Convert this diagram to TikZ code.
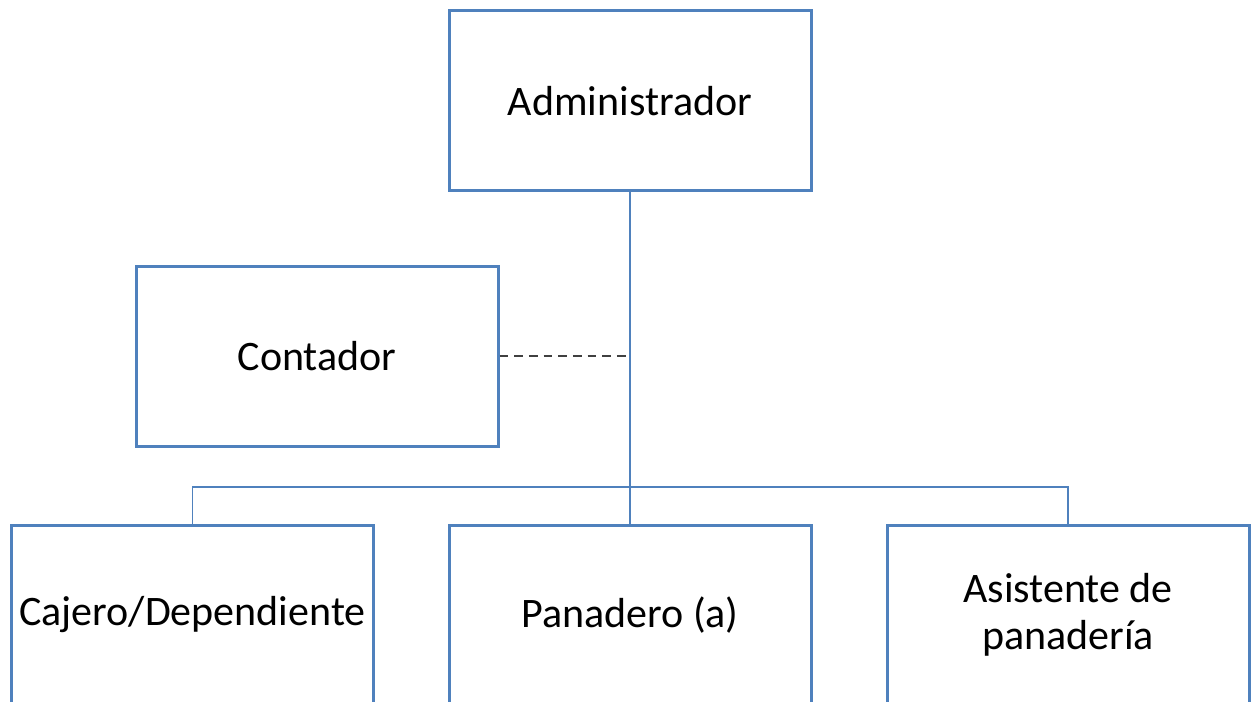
\documentclass[tikz,border=0pt]{standalone}
\usepackage{fontspec}
\setmainfont{Carlito}
\usepackage{tikz}
\RequirePackage{xcolor}
\definecolor{boxblue}{HTML}{4F81BD}
\definecolor{dashgray}{HTML}{404040}

\tikzset{
  puesto/.style={draw=boxblue, line width=2.25pt, fill=white,
    minimum width=271.5pt, minimum height=135pt, inner sep=0pt,
    align=center, font=\fontsize{31.5}{35.5}\selectfont},
  enlace/.style={draw=boxblue, line width=1.3pt},
  staff/.style={draw=dashgray, line width=1.4pt, dash pattern=on 6.5pt off 4.5pt}
}

\begin{document}
\begin{tikzpicture}[x=0.75pt, y=-0.75pt]
     \clip (0,0) rectangle (1251,702);
     \fill[white] (0,0) rectangle (1251,702);
     \node[puesto] (admin) at (630,101) {Administrador};
     \node[puesto] (contador) at (317,356) {Contador};
     \node[puesto] (cajero) at (192.5,615) {Cajero/Dependiente};
     \node[puesto] (panadero) at (630,615) {Panadero (a)};
     \node[puesto] (asistente) at (1068,615) {Asistente de\\panader\'{\i}a};
     \coordinate (bus) at (630,487);
     % lineas
     \draw[enlace] (admin.south) -- (panadero.north);
     \draw[enlace] (cajero.north) |- (bus) -| (asistente.north);
     \draw[staff] (contador.east) -- (contador.east -| admin.south);
 \end{tikzpicture}
\end{document}
